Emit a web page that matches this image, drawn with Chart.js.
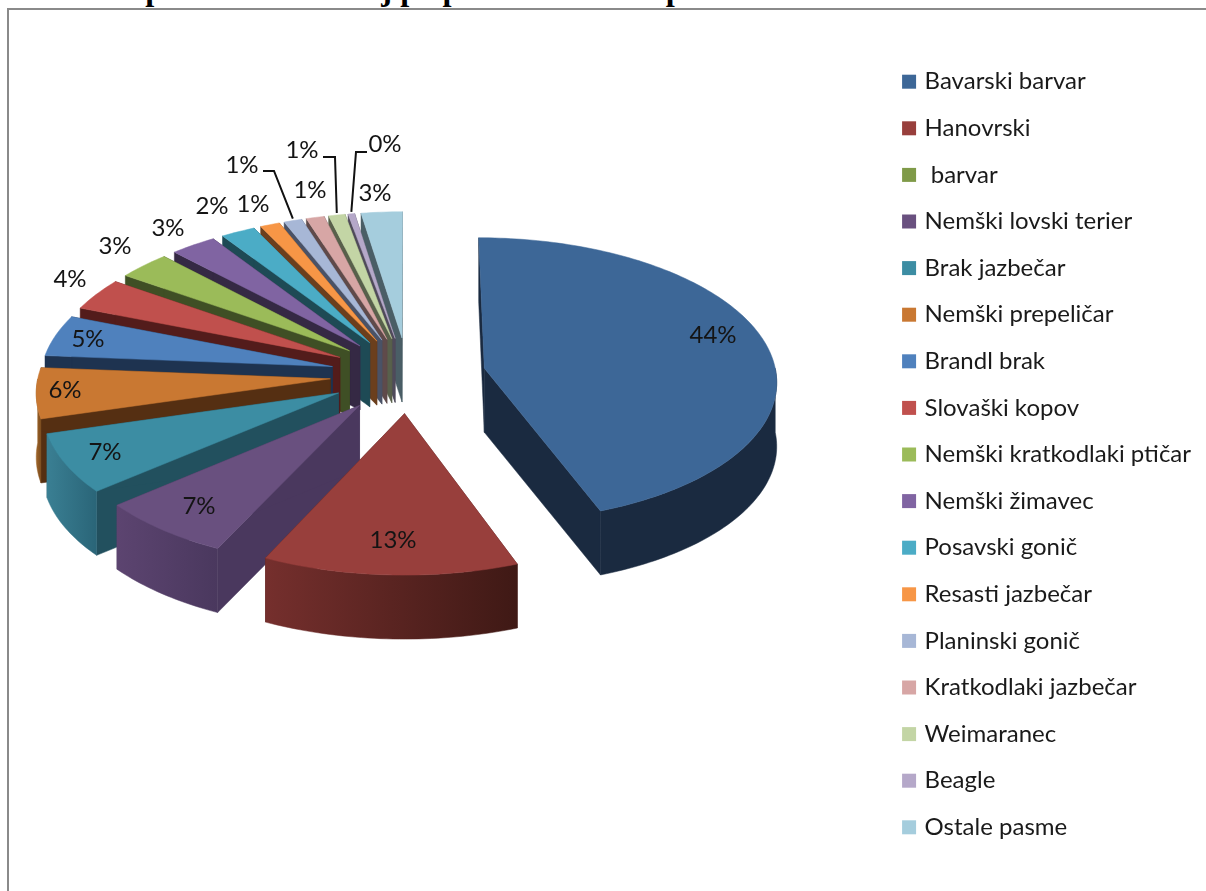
<!DOCTYPE html>
<html><head><meta charset="utf-8">
<style>
html,body{margin:0;padding:0;background:#fff;width:1206px;height:891px;overflow:hidden}
#frame{position:absolute;left:7px;top:8px;width:1300px;height:1000px;border-left:2px solid #8a8a8a;border-top:2px solid #8a8a8a}
#title{position:absolute;left:13px;top:-29px;font:bold 32.4px "Liberation Serif",serif;color:#000;white-space:nowrap}
canvas{position:absolute;left:0;top:0}
</style>
<script src="https://cdn.jsdelivr.net/npm/chart.js@4/dist/chart.umd.min.js"></script>
</head><body>
<div id="frame"></div>
<div id="title">Grafična predstavitev izhaj po pasmah lovskih psov</div>
<canvas id="c" width="1206" height="891"></canvas>
<script>
const categories = ["Bavarski barvar","Hanovrski"," barvar","Nemški lovski terier","Brak jazbečar","Nemški prepeličar","Brandl brak","Slovaški kopov","Nemški kratkodlaki ptičar","Nemški žimavec","Posavski gonič","Resasti jazbečar","Planinski gonič","Kratkodlaki jazbečar","Weimaranec","Beagle","Ostale pasme"];
const shares = [44.4,12.8,0,6.8,6.7,5.7,4.7,3.7,3.2,2.8,2.1,1.2,1.1,1.1,1.0,0.4,2.5];
const shownLabels = ["44%","13%","","7%","7%","6%","5%","4%","3%","3%","2%","1%","1%","1%","1%","0%","3%"];
const topColors = ["#3d6797","#983f3c","#7f9a48","#69507f","#3c8da3","#c97832","#4f81bd","#c0504d","#9bbb59","#8064a2","#4bacc6","#f79646","#a7b7d6","#d7a6a5","#c3d5a5","#b5a8c9","#a5cddd"];
const cutColors = ["#1a2a40","#4a1c1a","#3f4f25","#4a385e","#22505e","#552f12","#1e3350","#531c1b","#3f4f25","#352944","#1e4a55","#6b3f1d","#4a5266","#5f4a4a","#58604b","#4f4a5a","#4a5e66"];
const wallFrom = ["#1a2a40","#752f2d","#5a7035","#5c4470","#3a7f93","#a0662a","#3a5f8c","#8e3a38","#6f8a40","#5e4a78","#38808f","#b56f33","#7a88a0","#9f7a7a","#909e7c","#85799a","#7a98a4"];
const wallTo = ["#1a2a40","#3f1915","#3f4f25","#4a385e","#2a6578","#7a4a1c","#2a4a70","#6b2b2a","#55692f","#4a3860","#2a6572","#8a5526","#5e6a7e","#7a5e5e","#6f7a60","#665d78","#5e7680"];
const labelSpots = [[713,335],[393,540],null,[199,506],[105,452],[65,390],[88,339],[70,279],[115,246],[168,228],[212,206],[253,204],[242,165],[310,190],[302,150],[385,144],[375,193]];
const leaderElbows = {12:[[263,171],[274,171]],14:[[323,157],[335,157]],15:[[367,152],[356,152]]};

// view of the pie plane
const view = {cx:408, cy:375, rx:292, ry:142, k:0.08, depth:64};

function project(X, Y){
  const w = 1 - view.k*Y;
  return [view.cx + view.rx*X/w, view.cy + view.ry*Y/w];
}
function geom(el){
  const off = (el.options.offset||0)/4;
  const R = el.outerRadius + off;
  const mid = (el.startAngle+el.endAngle)/2;
  const ax = off*Math.cos(mid)/R, ay = off*Math.sin(mid)/R;
  const pts = [];
  const n = Math.max(2, Math.ceil((el.endAngle-el.startAngle)/0.02));
  for(let i=0;i<=n;i++){
    const a = el.startAngle+(el.endAngle-el.startAngle)*i/n;
    pts.push({a, p:project(ax+Math.cos(a), ay+Math.sin(a))});
  }
  return {apex:project(ax,ay), pts, mid};
}
function poly(ctx, list, fill){
  ctx.beginPath();
  list.forEach((p,i)=> i?ctx.lineTo(p[0],p[1]):ctx.moveTo(p[0],p[1]));
  ctx.closePath();
  ctx.fillStyle = fill; ctx.strokeStyle = fill; ctx.lineWidth = .5;
  ctx.fill(); ctx.stroke();
}
const pie3d = {
  id:'pie3d',
  beforeDatasetDraw(chart, args){
    const ctx = chart.ctx, d = view.depth;
    const arcs = chart.getDatasetMeta(0).data.slice();
    const order = arcs.map((e,i)=>i).filter(i=>shares[i]>0)
      .sort((a,b)=>Math.sin((arcs[a].startAngle+arcs[a].endAngle)/2)-Math.sin((arcs[b].startAngle+arcs[b].endAngle)/2));
    ctx.save();
    order.forEach(i=>{
      const g = geom(arcs[i]), A = g.apex, P = g.pts, S = P[0].p, E = P[P.length-1].p;
      const dn = p=>[p[0],p[1]+d];
      poly(ctx,[A,S,dn(S),dn(A)],cutColors[i]);
      poly(ctx,[A,E,dn(E),dn(A)],cutColors[i]);
      const front = P.filter(q=>Math.sin(q.a)>0).map(q=>q.p);
      if(front.length>1){
        const xs = front.map(p=>p[0]);
        const gr = ctx.createLinearGradient(Math.min(...xs),0,Math.max(...xs),0);
        gr.addColorStop(0,wallFrom[i]); gr.addColorStop(1,wallTo[i]);
        poly(ctx,front.concat(front.slice().reverse().map(dn)),gr);
      }
      poly(ctx,[A].concat(P.map(q=>q.p)),topColors[i]);
    });
    // leaders
    ctx.strokeStyle='#111'; ctx.lineWidth=2;
    Object.keys(leaderElbows).forEach(k=>{
      const el = arcs[k], g = geom(el), m = g.pts[Math.floor(g.pts.length/2)].p;
      const e = leaderElbows[k];
      ctx.beginPath(); ctx.moveTo(e[0][0],e[0][1]); ctx.lineTo(e[1][0],e[1][1]); ctx.lineTo(m[0],m[1]-2); ctx.stroke();
    });
    // value labels
    ctx.font='24px Lato'; ctx.fillStyle='#141414'; ctx.textAlign='center'; ctx.textBaseline='middle';
    labelSpots.forEach((s,i)=>{ if(s) ctx.fillText(shownLabels[i],s[0],s[1]); });
    ctx.restore();
    return false;
  }
};
new Chart(document.getElementById('c'),{
  type:'pie',
  data:{labels:categories,datasets:[{data:shares,backgroundColor:topColors,borderWidth:0,offset:320,radius:220,rotation:0}]},
  plugins:[pie3d],
  options:{
    responsive:false,animation:false,
    layout:{padding:{top:18,right:5,bottom:0,left:0}},
    plugins:{
      tooltip:{enabled:false},
      legend:{position:'right',labels:{usePointStyle:true,pointStyle:'rect',boxWidth:7,boxHeight:14,padding:22.6,color:'#1a1a1a',font:{family:'Lato',size:24}}}
    }
  }
});
</script>
</body></html>
